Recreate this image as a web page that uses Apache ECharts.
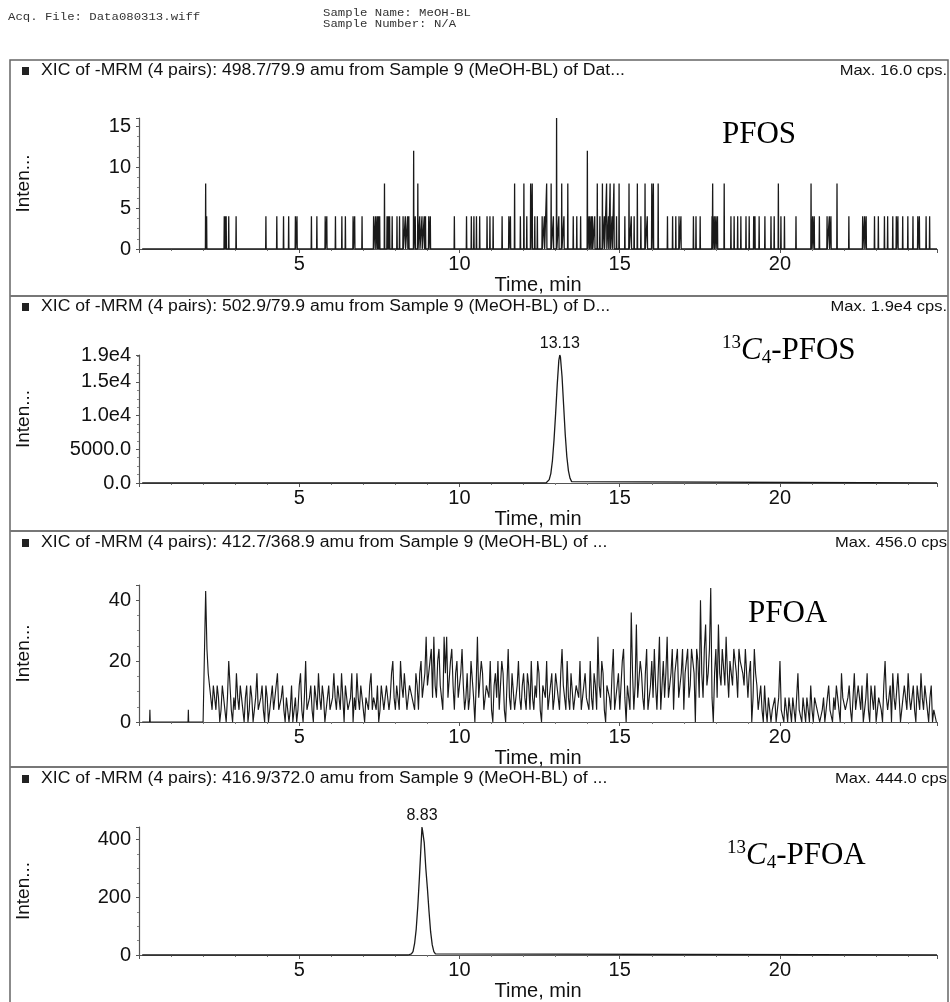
<!DOCTYPE html>
<html>
<head>
<meta charset="utf-8">
<script src="https://cdn.jsdelivr.net/npm/echarts@6/dist/echarts.min.js"></script>
<style>
  html, body { margin: 0; padding: 0; background: #fff; }
  #chart { width: 950px; height: 1002px; }
</style>
</head>
<body>
<div id="chart"></div>
<script>
// ---- Retention-time axis (minutes) ----
const timeRange = [0, 24.9];
const timeTickStep = 5;

// ---- PFOS, 498.7/79.9: sparse counting sticks [time min, cps] ----
const pfosSticks = [
  [2.08,8],[2.11,4],[2.66,4],[2.69,4],[2.72,4],[2.80,4],[3.03,4],[3.96,4],[4.30,4],[4.51,4],
  [4.67,4],[4.88,4],[4.93,4],[5.38,4],[5.55,4],[5.81,4],[5.86,4],[6.13,4],[6.33,4],[6.44,4],
  [6.68,4],[6.73,4],[6.96,4],[7.32,4],[7.38,4],[7.43,4],[7.47,4],[7.51,4],[7.66,8],[7.74,4],
  [7.78,4],[7.82,4],[7.90,4],[8.05,4],[8.13,4],[8.24,4],[8.31,4],[8.38,4],[8.42,4],[8.57,12],
  [8.62,4],[8.70,8],[8.76,4],[8.83,4],[8.90,4],[8.94,4],[9.04,4],[9.09,4],[9.84,4],[10.22,4],
  [10.37,4],[10.45,4],[10.53,4],[10.63,4],[10.86,4],[10.95,4],[11.05,4],[11.33,4],[11.54,4],[11.59,4],
  [11.72,8],[11.90,4],[12.01,8],[12.10,4],[12.22,8],[12.27,8],[12.35,4],[12.43,4],[12.58,4],[12.65,4],
  [12.72,8],[12.86,8],[12.93,4],[13.03,16],[13.10,4],[13.19,8],[13.26,4],[13.38,8],[13.55,4],[13.66,4],
  [13.78,4],[13.99,12],[14.04,4],[14.07,4],[14.12,4],[14.15,4],[14.22,4],[14.30,8],[14.38,4],[14.46,8],
  [14.52,4],[14.59,8],[14.65,4],[14.70,8],[14.76,4],[14.82,8],[14.90,4],[14.98,8],[15.16,4],[15.29,8],
  [15.36,4],[15.45,4],[15.55,8],[15.66,4],[15.79,8],[15.86,4],[16.00,8],[16.05,8],[16.20,8],[16.49,4],
  [16.65,4],[16.75,4],[16.85,4],[16.91,4],[17.30,4],[17.38,4],[17.51,4],[17.88,4],[17.90,8],[17.95,4],
  [18.00,4],[18.05,4],[18.26,8],[18.47,4],[18.57,4],[18.68,4],[18.78,4],[18.94,4],[19.04,4],[19.18,4],
  [19.22,4],[19.35,4],[19.53,4],[19.72,4],[19.82,4],[19.95,8],[20.03,4],[20.14,4],[20.50,4],[20.97,8],
  [21.02,4],[21.07,4],[21.23,4],[21.47,4],[21.54,4],[21.59,4],[21.78,8],[22.15,4],[22.58,4],[22.64,4],
  [22.69,4],[22.95,4],[23.07,4],[23.26,4],[23.36,4],[23.52,4],[23.63,4],[23.68,4],[23.83,4],[23.99,4],
  [24.15,4],[24.30,4],[24.35,4],[24.56,4],[24.67,4]
];

// ---- 13C4-PFOS, 502.9/79.9: internal standard peak [time min, cps] ----
const c13PfosTrace = [
  [0.10,0],[12.70,0],[12.75,150],[12.80,500],[12.85,1400],[12.90,3300],[12.95,6400],[13.00,10300],
  [13.05,14600],[13.10,18200],[13.13,19000],[13.15,18700],[13.20,15800],[13.25,11500],[13.30,7200],
  [13.35,3900],[13.40,1800],[13.45,700],[13.50,200],[13.55,0],[24.90,0]
];

// ---- PFOA, 412.7/368.9: sampled trace (cps) ----
// pfoaCounts: scans at pfoaStart + i*pfoaStep; pfoaCountsMid: the scans half a step later.
const pfoaEarlySticks = [[0.34,4],[1.54,4]];
const pfoaStart = 2.08;
const pfoaStep = 0.08;
const pfoaCounts = [
  43,16,8,12,4, 8,4,8,0,20, 4,8,16,4,8, 0,12,4,8,4, 16,4,12,0,8,
  4,12,8,16,4, 12,0,8,4,0, 8,4,16,0,20, 4,12,0,8,16, 4,8,0,12,4,
  16,4,8,16,0, 12,4,16,8,16, 4,12,0,8,12, 4,8,12,4,8, 4,12,8,20,4,
  12,20,8,16,4, 12,8,16,4,20, 8,28,12,24,28, 8,24,12,28,28, 8,24,4,20,8,
  24,4,16,8,20, 0,28,8,16,4, 12,20,0,16,20, 12,16,0,24,4, 16,8,20,4,16,
  4,12,20,4,8, 16,0,12,20,4, 16,8,12,4,24, 8,20,4,16,8, 12,20,4,16,8,
  20,4,12,28,8, 16,0,12,4,24, 8,16,4,24,0, 12,36,4,32,8, 16,4,24,8,20,
  24,4,28,12,8, 28,12,24,16,24, 8,24,16,24,12, 24,0,20,40,8, 32,16,44,0,24,
  32,12,24,28,8, 20,24,16,24,20, 12,24,16,0,24, 12,8,4,12,0, 8,4,8,0,20,
  4,8,0,4,8, 0,16,4,8,0, 4,12,0,8,4, 0,8,4,12,4, 8,12,4,16,8,
  4,12,0,16,4, 8,12,4,16,0, 8,12,4,8,0, 20,4,12,16,4, 16,0,8,12,16,
  4,12,0,8,16, 4,8,0,12,4, 0
];
const pfoaCountsMid = [
  24,12,4,8,12, 0,12,4,8,12, 0,4,8,12,4, 8,0,12,0,8, 4,8,4,12,0,
  8,4,12,4,8, 4,8,0,12,4, 0,12,4,8,4, 8,4,12,4,8, 12,0,8,4,8,
  8,12,4,8,12, 4,8,0,4,8, 12,4,8,4,16, 8,4,0,12,4, 12,4,16,8,12,
  4,12,16,4,12, 8,4,12,16,8, 16,12,20,8,12, 20,12,4,16,8, 20,12,16,8,16,
  12,8,4,20,8, 12,8,20,4,12, 8,4,12,8,4, 20,4,12,8,16, 4,12,8,12,8,
  16,4,8,12,20, 4,12,8,4,12, 4,16,8,16,12, 4,8,16,4,12, 8,4,12,8,4,
  8,16,4,12,20, 4,12,8,16,4, 12,4,20,8,12, 4,16,12,8,20, 8,16,4,12,8,
  12,16,4,20,16, 8,16,4,20,8, 16,4,20,8,24, 16,24,8,16,24, 12,24,8,16,8,
  16,24,12,16,20, 12,20,8,20,16, 24,8,20,8,16, 4,12,0,4,8, 0,4,0,8,4,
  0,4,8,0,4, 8,4,0,4,8, 0,4,8,4,0, 4,0,8,4,0, 4,8,0,8,4,
  8,4,8,4,12, 4,0,8,4,12, 4,0,8,4,12, 8,4,0,8,4, 8,4,12,4,8,
  8,4,12,4,8, 12,4,8,0,4
];

// ---- 13C4-PFOA, 416.9/372.0: internal standard peak [time min, cps] ----
const c13PfoaTrace = [
  [0.10,0],[8.40,0],[8.50,4],[8.55,12],[8.60,40],[8.65,90],[8.70,170],[8.75,270],[8.80,380],
  [8.83,444],[8.85,430],[8.90,390],[8.95,300],[9.00,230],[9.05,150],[9.10,80],[9.15,35],
  [9.20,12],[9.25,4],[9.30,0],[24.90,0]
];

// ---- Intensity axes ----
const intensityMax = [16, 19000, 45, 444];
const intensityStep = [5, 5000, 20, 200];
const istdTickLabels = { 0: '0.0', 5000: '5000.0', 10000: '1.0e4', 15000: '1.5e4', 19000: '1.9e4' };

// ---- Text ----
const headerAcq = 'Acq. File: Data080313.wiff';
const headerSample = ['Sample Name: MeOH-BL', 'Sample Number: N/A'];
const panelTitles = [
  'XIC of -MRM (4 pairs): 498.7/79.9 amu from Sample 9 (MeOH-BL) of Dat...',
  'XIC of -MRM (4 pairs): 502.9/79.9 amu from Sample 9 (MeOH-BL) of D...',
  'XIC of -MRM (4 pairs): 412.7/368.9 amu from Sample 9 (MeOH-BL) of ...',
  'XIC of -MRM (4 pairs): 416.9/372.0 amu from Sample 9 (MeOH-BL) of ...'
];
const panelMaxLabels = ['Max. 16.0 cps.', 'Max. 1.9e4 cps.', 'Max. 456.0 cps', 'Max. 444.0 cps'];
const compoundLabels = [
  '{t|PFOS}',
  '{sup|13}{c|C}{sub|4}{t|-PFOS}',
  '{t|PFOA}',
  '{sup|13}{c|C}{sub|4}{t|-PFOA}'
];
const axisNames = { x: 'Time, min', y: 'Inten...' };

// ---- Build traces ----
function stickTrace(sticks, from, to, half) {
  const out = [[from, 0]];
  sticks.forEach(([t, v]) => { out.push([t - half, 0], [t, v], [t + half, 0]); });
  out.push([to, 0]);
  return out;
}
function pfoaTrace() {
  const out = stickTrace(pfoaEarlySticks, 0.10, 2.0, 0.01);
  pfoaCounts.forEach((v, i) => {
    const t = pfoaStart + i * pfoaStep;
    out.push([+t.toFixed(3), v]);
    if (i < pfoaCountsMid.length) out.push([+(t + pfoaStep / 2).toFixed(3), pfoaCountsMid[i]]);
  });
  return out;
}
function apexOf(trace) {
  return trace.reduce((a, b) => (b[1] > a[1] ? b : a));
}

const traces = [
  stickTrace(pfosSticks, 0.10, 24.9, 0.008),
  c13PfosTrace,
  pfoaTrace(),
  c13PfoaTrace
];

// ---- Layout ----
const plotLeft = 139, plotWidth = 798;
const gridTops = [118, 355, 585, 827];
const gridHeights = [131, 128, 137, 133];
const titleY = [71, 307, 543, 779];
const dividerY = [296, 531, 767];
const compoundPos = [[722, 135], [722, 351], [748, 614], [727, 856]];
const traceWidths = [1.3, 1.3, 1.15, 1.3];

const AX = '#555';
const INK = '#1a1a1a';
const SANS = '"Liberation Sans", Arial, sans-serif';
const SERIF = '"Liberation Serif", "Times New Roman", serif';

const grids = [], xAxes = [], yAxes = [], series = [];
for (let i = 0; i < 4; i++) {
  grids.push({ left: plotLeft, width: plotWidth, top: gridTops[i], height: gridHeights[i] });
  xAxes.push({
    type: 'value', gridIndex: i, min: timeRange[0], max: timeRange[1], interval: timeTickStep,
    name: axisNames.x, nameLocation: 'middle', nameGap: 26,
    nameTextStyle: { fontFamily: SANS, fontSize: 20, color: '#111' },
    axisLine: { show: true, lineStyle: { color: AX, width: 1.2 } },
    axisTick: { show: true, length: 4, lineStyle: { color: AX } },
    minorTick: { show: true, splitNumber: 5, length: 2, lineStyle: { color: '#777' } },
    axisLabel: { showMinLabel: false, showMaxLabel: false, margin: 5, fontFamily: SANS, fontSize: 20, color: '#111' },
    splitLine: { show: false }, minorSplitLine: { show: false }
  });
  yAxes.push({
    type: 'value', gridIndex: i, min: 0, max: intensityMax[i], interval: intensityStep[i],
    name: axisNames.y, nameLocation: 'middle', nameGap: 106, nameRotate: 90,
    nameTextStyle: { fontFamily: SANS, fontSize: 19, color: '#111' },
    axisLine: { show: true, lineStyle: { color: AX, width: 1.2 } },
    axisTick: { show: true, length: 3, lineStyle: { color: AX } },
    minorTick: { show: true, splitNumber: 4, length: 2, lineStyle: { color: '#888' } },
    axisLabel: {
      showMaxLabel: i === 1, margin: 8, fontFamily: SANS, fontSize: 20, color: '#111',
      formatter: i === 1 ? (v => istdTickLabels[v] !== undefined ? istdTickLabels[v] : '') : undefined
    },
    splitLine: { show: false }, minorSplitLine: { show: false }
  });
  const s = {
    type: 'line', xAxisIndex: i, yAxisIndex: i, data: traces[i],
    showSymbol: false, symbol: 'none', clip: true,
    lineStyle: { color: INK, width: traceWidths[i] }, emphasis: { disabled: true }
  };
  if (i === 1 || i === 3) {
    const top = apexOf(traces[i]);
    s.markPoint = {
      symbol: 'circle', symbolSize: 1, itemStyle: { color: 'rgba(0,0,0,0)' },
      data: [{ coord: top, value: top[0] }],
      label: {
        show: true, position: 'top', distance: 3, color: '#111',
        fontFamily: SANS, fontSize: 16, formatter: p => p.value.toFixed(2)
      }
    };
  }
  series.push(s);
}

// ---- Frame, titles and labels ----
const MONO = '11px "Liberation Mono", monospace';
function headerText(x, y, text) {
  return { type: 'text', silent: true, x: x, y: y, scaleX: 1.12,
    style: { x: 0, y: 0, text: text, verticalAlign: 'middle', font: MONO, fill: '#333' } };
}
const graphic = [
  { type: 'rect', silent: true, shape: { x: 10, y: 60, width: 938, height: 980 },
    style: { fill: 'none', stroke: '#666', lineWidth: 1.5 } },
  headerText(8, 17, headerAcq),
  headerText(323, 13, headerSample[0]),
  headerText(323, 24, headerSample[1])
];
dividerY.forEach(y => graphic.push({
  type: 'line', silent: true, shape: { x1: 10, y1: y, x2: 948, y2: y },
  style: { stroke: '#777', lineWidth: 2 }
}));
const compoundRich = {
  t: { fontFamily: SERIF, fontSize: 31, color: '#111', lineHeight: 34 },
  c: { fontFamily: SERIF, fontSize: 31, fontStyle: 'italic', color: '#111', lineHeight: 34 },
  sup: { fontFamily: SERIF, fontSize: 19, color: '#111', lineHeight: 24, verticalAlign: 'top' },
  sub: { fontFamily: SERIF, fontSize: 19, color: '#111', lineHeight: 10, verticalAlign: 'bottom' }
};
for (let i = 0; i < 4; i++) {
  graphic.push({ type: 'rect', silent: true, shape: { x: 22, y: titleY[i] - 4, width: 7, height: 8 },
    style: { fill: '#222' } });
  graphic.push({ type: 'text', silent: true, x: 41, y: titleY[i], scaleX: 1.1,
    style: { x: 0, y: 0, text: panelTitles[i], verticalAlign: 'middle', font: '16px ' + SANS, fill: '#111' } });
  graphic.push({ type: 'text', silent: true, x: 947, y: titleY[i], scaleX: 1.1,
    style: { x: 0, y: 0, text: panelMaxLabels[i], align: 'right', verticalAlign: 'middle', font: '15px ' + SANS, fill: '#111' } });
  graphic.push({ type: 'text', silent: true, style: { x: compoundPos[i][0], y: compoundPos[i][1],
    text: compoundLabels[i], rich: compoundRich, verticalAlign: 'middle' } });
}

const chart = echarts.init(document.getElementById('chart'), null, { renderer: 'canvas' });
chart.setOption({
  animation: false,
  backgroundColor: '#fff',
  grid: grids,
  xAxis: xAxes,
  yAxis: yAxes,
  series: series,
  graphic: graphic
});
</script>
</body>
</html>
